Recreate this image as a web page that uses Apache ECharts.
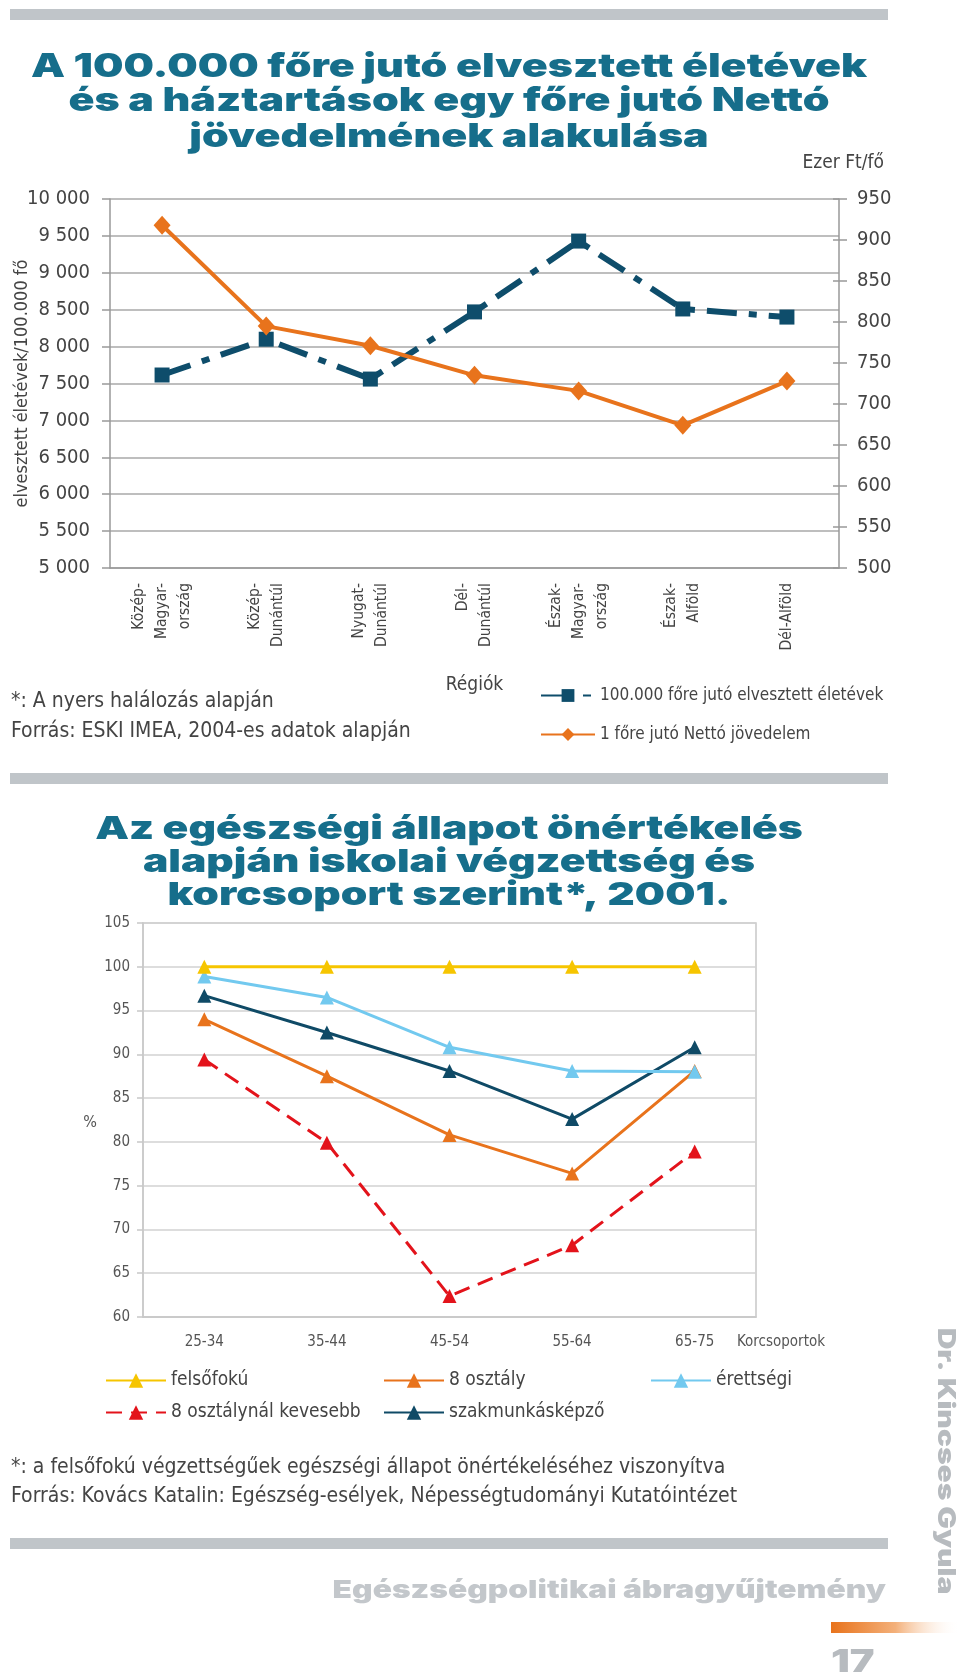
<!DOCTYPE html>
<html><head><meta charset="utf-8">
<script src="https://cdn.jsdelivr.net/npm/echarts@6/dist/echarts.min.js"></script>
<style>html,body{margin:0;padding:0;background:#fff}#c{width:960px;height:1678px}</style>
</head><body><div id="c"></div>
<script>
// ---- Chart 1 data ----
const regions = ['Közép-\nMagyar-\nország', 'Közép-\nDunántúl', 'Nyugat-\nDunántúl', 'Dél-\nDunántúl', 'Észak-\nMagyar-\nország', 'Észak-\nAlföld', 'Dél-Alföld'];
const lostYears = [7615, 8100, 7560, 8470, 9430, 8510, 8400];
const netIncome = [918, 795, 771, 735, 716, 674, 728];
const seriesNames1 = ['100.000 főre jutó elvesztett életévek', '1 főre jutó Nettó jövedelem'];
// ---- Chart 2 data ----
const ageGroups = ['25-34', '35-44', '45-54', '55-64', '65-75'];
const felsofoku = [100, 100, 100, 100, 100];
const osztaly8 = [94.0, 87.5, 80.8, 76.4, 88.1];
const erettsegi = [98.9, 96.5, 90.8, 88.1, 88.0];
const kevesebb8 = [89.4, 79.9, 62.4, 68.2, 78.9];
const szakmunkas = [96.7, 92.5, 88.1, 82.6, 90.8];

const NARROW = "'Liberation Sans Narrow','DejaVu Sans Condensed','Liberation Sans',sans-serif";
const HEAVY = "Inter, Lato, 'DejaVu Sans', sans-serif";
const TITLE_C = '#166e8b';
const TXT = '#444';
const GRAY_BAR = '#c0c5c9';

const fmtSpace = v => String(v).replace(/\B(?=(\d{3})+(?!\d))/g, ' ');

const chart = echarts.init(document.getElementById('c'), null, {renderer: 'canvas'});

function txt(text, x, y, size, opts) {
  opts = opts || {};
  return {
    type: 'text', x: x, y: y, rotation: opts.rotation || 0, scaleX: opts.scaleX || 1, z: 10,
    style: {
      text: text,
      font: (opts.weight || 'normal') + ' ' + size + 'px ' + (opts.family || NARROW),
      fill: opts.color || TXT,
      textAlign: opts.align || 'left',
      textVerticalAlign: 'middle'
    }
  };
}
const T = {family: HEAVY, weight: 900, color: TITLE_C, align: 'center', scaleX: 1.3};
const T2 = {family: HEAVY, weight: 900, color: TITLE_C, align: 'center', scaleX: 1.33};

const option = {
  animation: false,
  backgroundColor: '#fff',
  textStyle: {fontFamily: NARROW},
  graphic: [
    {type: 'rect', shape: {x: 10, y: 9, width: 878, height: 11}, style: {fill: GRAY_BAR}},
    {type: 'rect', shape: {x: 10, y: 773, width: 878, height: 11}, style: {fill: GRAY_BAR}},
    {type: 'rect', shape: {x: 10, y: 1538, width: 878, height: 11}, style: {fill: GRAY_BAR}},
    {type: 'rect', shape: {x: 831, y: 1622, width: 129, height: 11},
      style: {fill: new echarts.graphic.LinearGradient(0, 0, 1, 0, [{offset: 0, color: '#e8731c'}, {offset: 0.5, color: '#f3b07a'}, {offset: 1, color: 'rgba(255,255,255,0)'}])}},
    txt('A 100.000 főre jutó elvesztett életévek', 449, 67, 33, T),
    txt('és a háztartások egy főre jutó Nettó', 449, 101, 33, T),
    txt('jövedelmének alakulása', 449, 137, 33, T),
    txt('Ezer Ft/fő', 884, 163, 19, {align: 'right'}),
    txt('*: A nyers halálozás alapján', 11, 702, 21),
    txt('Forrás: ESKI IMEA, 2004-es adatok alapján', 11, 732, 21),
    txt('Az egészségi állapot önértékelés', 449, 829, 32, T2),
    txt('alapján iskolai végzettség és', 449, 862, 32, T2),
    txt('korcsoport szerint*, 2001.', 449, 895, 32, T2),
    txt('%', 90, 1123, 16, {color: '#555', align: 'center'}),
    txt('Korcsoportok', 737, 1342, 15, {color: '#555'}),
    txt('*: a felsőfokú végzettségűek egészségi állapot önértékeléséhez viszonyítva', 11, 1468, 21),
    txt('Forrás: Kovács Katalin: Egészség-esélyek, Népességtudományi Kutatóintézet', 11, 1497, 21),
    txt('Egészségpolitikai ábragyűjtemény', 886, 1590, 25, {family: HEAVY, weight: 900, color: '#c3c7cb', align: 'right', scaleX: 1.27}),
    txt('17', 831, 1662, 32, {family: HEAVY, weight: 900, color: '#b7bbbf', scaleX: 1.3}),
    txt('Dr. Kincses Gyula', 945, 1461, 24, {family: HEAVY, weight: 900, color: '#b7bbbf', align: 'center', rotation: -Math.PI / 2, scaleX: 1.25})
  ],
  grid: [
    {left: 110, top: 199, width: 729, height: 369, outerBoundsMode: 'none', containLabel: false},
    {left: 143, top: 923, width: 613, height: 394, show: true, borderColor: '#c8c8c8', borderWidth: 1.5, outerBoundsMode: 'none', containLabel: false}
  ],
  legend: [
    {orient: 'vertical', left: 535, top: 682, itemWidth: 54, itemHeight: 16, itemGap: 22,
      data: seriesNames1, textStyle: {fontSize: 17, color: TXT, fontFamily: NARROW}},
    {orient: 'vertical', left: 100, top: 1366, itemWidth: 60, itemHeight: 18, itemGap: 13,
      data: ['felsőfokú', '8 osztálynál kevesebb'], textStyle: {fontSize: 19, color: TXT, fontFamily: NARROW}},
    {orient: 'vertical', left: 378, top: 1366, itemWidth: 60, itemHeight: 18, itemGap: 13,
      data: ['8 osztály', 'szakmunkásképző'], textStyle: {fontSize: 19, color: TXT, fontFamily: NARROW}},
    {orient: 'vertical', left: 645, top: 1366, itemWidth: 60, itemHeight: 18, itemGap: 13,
      data: ['érettségi'], textStyle: {fontSize: 19, color: TXT, fontFamily: NARROW}}
  ],
  xAxis: [
    {type: 'category', gridIndex: 0, data: regions, boundaryGap: true,
      axisLine: {lineStyle: {color: '#999', width: 1.5}},
      axisTick: {length: 9, lineStyle: {color: '#999', width: 1.5}},
      axisLabel: {rotate: 90, fontSize: 15.5, lineHeight: 23, color: TXT, margin: 15, fontFamily: NARROW},
      name: 'Régiók', nameLocation: 'middle', nameGap: 108,
      nameTextStyle: {fontSize: 19, color: TXT, fontFamily: NARROW}},
    {type: 'category', gridIndex: 1, data: ageGroups, boundaryGap: true,
      axisLine: {lineStyle: {color: '#c8c8c8', width: 1.5}},
      axisTick: {length: 6, lineStyle: {color: '#c8c8c8', width: 1.5}},
      axisLabel: {fontSize: 15, color: '#555', margin: 18, fontFamily: NARROW}}
  ],
  yAxis: [
    {type: 'value', gridIndex: 0, min: 5000, max: 10000, interval: 500,
      axisLine: {show: true, lineStyle: {color: '#999', width: 1.5}},
      axisTick: {show: true, length: 8, lineStyle: {color: '#999', width: 1.5}},
      splitLine: {lineStyle: {color: '#a8a8a8', width: 1.5}},
      axisLabel: {fontSize: 20, color: TXT, margin: 20, formatter: fmtSpace, fontFamily: NARROW},
      name: 'elvesztett életévek/100.000 fő', nameLocation: 'middle', nameGap: 79, nameMoveOverlap: false,
      nameTextStyle: {fontSize: 18, color: TXT, fontFamily: NARROW}},
    {type: 'value', gridIndex: 0, position: 'right', min: 500, max: 950, interval: 50,
      axisLine: {show: true, lineStyle: {color: '#999', width: 1.5}},
      axisTick: {show: true, length: 8, lineStyle: {color: '#999', width: 1.5}},
      splitLine: {show: false},
      axisLabel: {fontSize: 20, color: TXT, margin: 18, fontFamily: NARROW}},
    {type: 'value', gridIndex: 0, position: 'right', min: 500, max: 950, interval: 50,
      axisLine: {show: false}, axisLabel: {show: false}, splitLine: {show: false},
      axisTick: {show: true, inside: true, length: 6, lineStyle: {color: '#999', width: 1.5}}},
    {type: 'value', gridIndex: 1, min: 60, max: 105, interval: 5,
      axisLine: {show: true, lineStyle: {color: '#c8c8c8', width: 1.5}},
      axisTick: {show: true, length: 6, lineStyle: {color: '#c8c8c8', width: 1.5}},
      splitLine: {lineStyle: {color: '#d2d2d2', width: 1.5}},
      axisLabel: {fontSize: 15, color: '#555', margin: 13, fontFamily: NARROW}}
  ],
  series: [
    {name: seriesNames1[0], type: 'line', xAxisIndex: 0, yAxisIndex: 0, data: lostYears,
      color: '#0e4d6b', symbol: 'rect', symbolSize: 15,
      lineStyle: {width: 6, type: [30, 12, 8, 12], color: '#0e4d6b'},
      itemStyle: {color: '#0e4d6b'}, z: 3},
    {name: seriesNames1[1], type: 'line', xAxisIndex: 0, yAxisIndex: 1, data: netIncome,
      color: '#e8731c', symbol: 'diamond', symbolSize: [17, 19],
      lineStyle: {width: 4, color: '#e8731c'}, itemStyle: {color: '#e8731c'}, z: 4},
    {name: '8 osztálynál kevesebb', type: 'line', xAxisIndex: 1, yAxisIndex: 3, data: kevesebb8,
      color: '#e3131b', symbol: 'triangle', symbolSize: 14,
      lineStyle: {width: 3, type: [16, 9], color: '#e3131b'}, itemStyle: {color: '#e3131b'}},
    {name: '8 osztály', type: 'line', xAxisIndex: 1, yAxisIndex: 3, data: osztaly8,
      color: '#e8731c', symbol: 'triangle', symbolSize: 14,
      lineStyle: {width: 3, color: '#e8731c'}, itemStyle: {color: '#e8731c'}},
    {name: 'szakmunkásképző', type: 'line', xAxisIndex: 1, yAxisIndex: 3, data: szakmunkas,
      color: '#0f4a66', symbol: 'triangle', symbolSize: 14,
      lineStyle: {width: 3, color: '#0f4a66'}, itemStyle: {color: '#0f4a66'}},
    {name: 'érettségi', type: 'line', xAxisIndex: 1, yAxisIndex: 3, data: erettsegi,
      color: '#72c9ef', symbol: 'triangle', symbolSize: 14,
      lineStyle: {width: 3, color: '#72c9ef'}, itemStyle: {color: '#72c9ef'}},
    {name: 'felsőfokú', type: 'line', xAxisIndex: 1, yAxisIndex: 3, data: felsofoku,
      color: '#f6c500', symbol: 'triangle', symbolSize: 14,
      lineStyle: {width: 3, color: '#f6c500'}, itemStyle: {color: '#f6c500'}}
  ]
};
chart.setOption(option);
</script></body></html>
